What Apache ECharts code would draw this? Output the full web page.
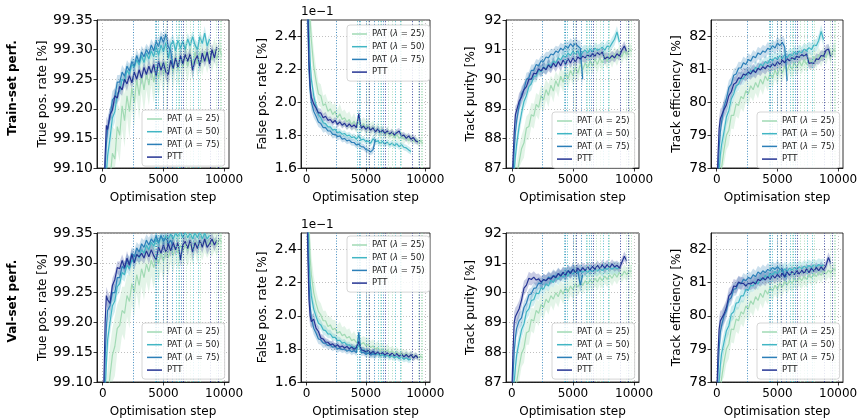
<!DOCTYPE html>
<html><head><meta charset="utf-8">
<script src="https://cdn.jsdelivr.net/npm/echarts@6/dist/echarts.min.js"></script>
<style>html,body{margin:0;padding:0;background:#fff}#c{width:860px;height:418px}</style>
</head><body><div id="c"></div>
<script>
// ---------------- DATA ----------------
const STEPS = [0,100,200,300,400,600,800,1000,1200,1400,1600,1800,2000,2200,2400,2600,2800,3000,3200,3400,
  3600,3800,4000,4200,4400,4600,4800,5000,5200,5400,5600,5800,6000,6200,6400,6600,6800,7000,7200,7400,
  7600,7800,8000,8200,8400,8600,8800,9000,9200,9400,9600,9800];
const SERIES_NAMES = ['PAT (λ = 25)','PAT (λ = 50)','PAT (λ = 75)','PTT'];
const X_TICKS = [0,5000,10000];
const TPR_TICKS = [99.10,99.15,99.20,99.25,99.30,99.35];
const FPR_TICKS = [1.6,1.8,2.0,2.2,2.4];
const PUR_TICKS = [87,88,89,90,91,92];
const EFF_TICKS = [78,79,80,81,82];

// vertical marker steps, one list per run
const VL_PAT25 = [5200,6200,6900,7250,8000,9370,9640,9780];
const VL_PAT50 = [4300,4550,6050,6300,7450,7900];
const VL_PAT75 = [2500,4400,5000,5700,6500];
const VL_PTT = [5300,6650,8880,9500];

// --- Train: true positive rate [%]
const tprTrainPAT25 = [98.85,98.90,98.95,99.00,99.04,99.08,99.125,99.115,99.17,99.155,
 99.205,99.18,99.222,99.195,99.235,99.21,99.25,99.222,99.258,99.232,
 99.262,99.24,99.268,99.245,99.272,99.25,99.278,99.255,99.28,99.258,
 99.284,99.262,99.288,99.266,99.288,99.27,99.292,99.272,99.294,99.275,
 99.296,99.276,99.296,99.278,99.298,99.28,99.298,99.282,99.3,99.284,
 99.302,99.29];
const tprTrainPAT50 = [98.90,98.98,99.04,99.09,99.12,99.15,99.185,99.195,99.225,99.23,
 99.25,99.245,99.265,99.258,99.275,99.27,99.283,99.274,99.29,99.278,
 99.294,99.284,99.298,99.288,99.305,99.29,99.308,99.296,99.312,99.285,
 99.308,99.315,99.298,99.316,99.302,99.314,99.3,99.318,99.306,99.322,
 99.308,99.3,99.322,99.31,99.328,99.306,99.318];
const tprTrainPAT75 = [98.92,99.02,99.10,99.14,99.165,99.185,99.215,99.22,99.245,99.245,
 99.262,99.255,99.272,99.264,99.28,99.272,99.29,99.278,99.296,99.288,
 99.3,99.292,99.308,99.298,99.314,99.305,99.322,99.312,99.326,99.305,
 99.298,99.27];
const tprTrainPTT = [98.95,99.05,99.12,99.172,99.165,99.19,99.198,99.222,99.218,99.238,
 99.232,99.25,99.242,99.256,99.244,99.262,99.25,99.266,99.252,99.27,
 99.258,99.272,99.26,99.275,99.255,99.28,99.265,99.278,99.262,99.258,
 99.282,99.268,99.286,99.27,99.29,99.276,99.292,99.28,99.293,99.265,
 99.282,99.29,99.272,99.294,99.28,99.296,99.276,99.3,99.286,99.304];

// --- Train: false positive rate [x1e-1 %]
const fprTrainPAT25 = [3.5,3.0,2.7,2.5,2.38,2.22,2.13,2.05,2.04,1.98,
 1.99,1.945,1.96,1.925,1.945,1.905,1.93,1.895,1.905,1.88,
 1.895,1.865,1.885,1.855,1.88,1.85,1.87,1.84,1.86,1.83,
 1.85,1.82,1.84,1.81,1.83,1.80,1.82,1.795,1.81,1.785,
 1.805,1.78,1.795,1.775,1.79,1.765,1.785,1.76,1.775,1.755,
 1.765,1.75];
const fprTrainPAT50 = [3.4,2.8,2.45,2.25,2.14,2.04,1.975,1.925,1.905,1.875,
 1.87,1.85,1.85,1.83,1.835,1.815,1.82,1.805,1.81,1.795,
 1.8,1.785,1.79,1.775,1.795,1.77,1.776,1.76,1.765,1.75,
 1.778,1.76,1.765,1.75,1.762,1.745,1.758,1.74,1.752,1.736,
 1.748,1.73,1.742,1.726,1.722,1.71,1.70];
const fprTrainPAT75 = [3.0,2.5,2.2,2.07,2.0,1.945,1.915,1.88,1.87,1.845,
 1.845,1.825,1.825,1.805,1.805,1.79,1.795,1.775,1.78,1.765,
 1.77,1.755,1.755,1.74,1.745,1.73,1.728,1.712,1.708,1.698,
 1.712,1.775];
const fprTrainPTT = [3.2,2.6,2.25,2.1,2.03,1.99,1.965,1.935,1.935,1.905,
 1.915,1.89,1.895,1.875,1.89,1.865,1.88,1.86,1.872,1.852,
 1.868,1.85,1.862,1.845,1.93,1.842,1.855,1.835,1.85,1.83,
 1.845,1.82,1.838,1.815,1.83,1.81,1.826,1.806,1.82,1.8,
 1.815,1.825,1.795,1.8,1.78,1.795,1.775,1.785,1.765,1.758];

// --- Train: track purity [%]
const purTrainPAT25 = [84.5,85.2,85.8,86.3,86.7,87.2,87.65,87.85,88.35,88.4,
 88.8,88.75,89.15,89.05,89.45,89.3,89.65,89.45,89.8,89.6,
 89.95,89.75,90.1,89.9,90.2,90.0,90.3,90.12,90.4,90.2,
 90.5,90.32,90.55,90.38,90.62,90.45,90.68,90.5,90.72,90.55,
 90.78,90.6,90.82,90.65,90.86,90.7,90.92,90.75,90.95,90.82,
 91.0,90.95];
const purTrainPAT50 = [85.5,86.2,86.9,87.4,87.8,88.4,88.85,89.25,89.45,89.75,
 89.85,90.1,90.1,90.3,90.25,90.42,90.35,90.52,90.45,90.62,
 90.55,90.72,90.65,90.8,90.74,90.88,90.8,90.95,90.84,90.96,
 90.75,90.92,90.98,90.88,91.02,90.92,91.05,90.98,91.02,91.08,
 90.98,91.12,91.08,91.22,91.35,91.6,91.25];
const purTrainPAT75 = [85.8,86.8,87.6,88.2,88.6,89.1,89.5,89.65,90.0,90.05,
 90.3,90.3,90.5,90.45,90.62,90.6,90.75,90.72,90.85,90.82,
 90.95,90.9,91.05,90.98,91.12,91.05,91.2,91.1,91.22,91.12,
 91.05,90.0];
const purTrainPTT = [86.0,87.2,88.2,88.8,88.85,89.25,89.4,89.65,89.75,90.0,
 90.0,90.2,90.18,90.35,90.28,90.4,90.32,90.48,90.38,90.55,
 90.42,90.6,90.45,90.65,90.5,90.7,90.55,90.72,90.58,90.75,
 90.68,90.78,90.72,90.82,90.76,90.86,90.78,90.9,90.82,90.92,
 90.68,90.75,90.7,90.8,90.72,90.86,90.78,90.98,91.12,90.92];

// --- Train: track efficiency [%]
const effTrainPAT25 = [75.5,76.3,77.0,77.6,78.0,78.55,79.0,79.15,79.6,79.6,
 79.95,79.9,80.18,80.1,80.35,80.25,80.5,80.38,80.6,80.45,
 80.7,80.55,80.8,80.65,80.88,80.72,80.98,80.8,81.05,80.88,
 81.1,80.95,81.15,81.0,81.2,81.05,81.25,81.1,81.3,81.15,
 81.35,81.2,81.4,81.25,81.45,81.3,81.5,81.35,81.55,81.4,
 81.6,81.55];
const effTrainPAT50 = [76.5,77.3,77.9,78.4,78.7,79.1,79.55,79.75,80.1,80.25,
 80.5,80.55,80.72,80.72,80.86,80.85,80.96,80.92,81.06,81.0,
 81.16,81.1,81.24,81.18,81.32,81.26,81.36,81.3,81.42,81.32,
 81.45,81.35,81.46,81.42,81.52,81.46,81.56,81.5,81.62,81.56,
 81.66,81.6,81.74,81.72,81.88,82.15,81.9];
const effTrainPAT75 = [76.8,77.8,78.6,79.1,79.4,79.85,80.1,80.45,80.55,80.82,
 80.86,81.04,81.04,81.2,81.15,81.3,81.25,81.4,81.35,81.5,
 81.45,81.56,81.52,81.64,81.6,81.72,81.65,81.8,81.72,81.82,
 81.68,80.65];
const effTrainPTT = [77.0,78.3,79.2,79.5,79.55,79.78,79.92,80.2,80.32,80.55,
 80.6,80.74,80.72,80.86,80.82,80.92,80.86,80.98,80.9,81.03,
 80.98,81.08,81.02,81.12,81.06,81.17,81.1,81.23,81.15,81.28,
 81.2,81.32,81.26,81.36,81.3,81.4,81.36,81.45,81.4,81.47,
 81.18,81.2,81.18,81.32,81.3,81.42,81.4,81.58,81.62,81.38];

// --- Val: true positive rate [%]
const tprValPAT25 = [98.85,98.92,98.98,99.03,99.07,99.11,99.145,99.16,99.19,99.195,
 99.22,99.215,99.245,99.235,99.265,99.25,99.28,99.262,99.29,99.275,
 99.298,99.285,99.305,99.292,99.312,99.298,99.318,99.302,99.322,99.308,
 99.326,99.312,99.328,99.316,99.33,99.318,99.332,99.32,99.334,99.322,
 99.336,99.324,99.336,99.326,99.338,99.328,99.338,99.33,99.34,99.33,
 99.34,99.334];
const tprValPAT50 = [98.9,99.0,99.08,99.13,99.17,99.2,99.228,99.236,99.26,99.265,
 99.284,99.28,99.296,99.29,99.305,99.3,99.315,99.308,99.322,99.316,
 99.33,99.322,99.335,99.328,99.34,99.332,99.345,99.336,99.346,99.34,
 99.348,99.34,99.35,99.344,99.354,99.342,99.352,99.342,99.35,99.34,
 99.35,99.342,99.352,99.34,99.35,99.34,99.346];
const tprValPAT75 = [98.92,99.05,99.14,99.19,99.22,99.228,99.25,99.25,99.275,99.275,
 99.294,99.29,99.305,99.298,99.316,99.31,99.325,99.318,99.332,99.326,
 99.338,99.33,99.34,99.334,99.345,99.334,99.346,99.336,99.342,99.332,
 99.338,99.326];
const tprValPTT = [98.95,99.10,99.20,99.245,99.238,99.232,99.262,99.272,99.292,99.29,
 99.304,99.292,99.308,99.296,99.314,99.3,99.314,99.31,99.316,99.308,
 99.32,99.31,99.322,99.312,99.305,99.326,99.316,99.33,99.318,99.332,
 99.32,99.334,99.322,99.334,99.305,99.33,99.336,99.324,99.338,99.318,
 99.334,99.324,99.338,99.326,99.34,99.326,99.332,99.34,99.33,99.338];

// --- Val: false positive rate [x1e-1 %]
const fprValPAT25 = [3.5,2.9,2.55,2.35,2.25,2.14,2.075,2.025,2.005,1.97,
 1.97,1.935,1.945,1.915,1.925,1.895,1.905,1.88,1.888,1.865,
 1.875,1.85,1.858,1.838,1.848,1.828,1.838,1.818,1.828,1.808,
 1.818,1.798,1.808,1.79,1.8,1.784,1.794,1.778,1.788,1.772,
 1.782,1.766,1.776,1.762,1.772,1.756,1.766,1.752,1.76,1.748,
 1.756,1.746];
const fprValPAT50 = [3.3,2.7,2.35,2.2,2.12,2.04,1.995,1.955,1.945,1.915,
 1.91,1.89,1.89,1.87,1.87,1.85,1.852,1.835,1.84,1.822,
 1.825,1.81,1.812,1.798,1.825,1.79,1.795,1.78,1.784,1.772,
 1.776,1.764,1.77,1.758,1.765,1.754,1.762,1.75,1.758,1.746,
 1.754,1.742,1.75,1.738,1.746,1.734,1.738];
const fprValPAT75 = [3.1,2.5,2.2,2.06,1.99,1.925,1.895,1.86,1.855,1.835,
 1.835,1.82,1.825,1.81,1.815,1.8,1.805,1.795,1.8,1.786,
 1.795,1.782,1.79,1.776,1.90,1.775,1.78,1.768,1.775,1.764,
 1.77,1.768];
const fprValPTT = [3.0,2.4,2.1,2.0,1.965,1.98,1.925,1.905,1.865,1.86,
 1.84,1.84,1.825,1.83,1.815,1.825,1.81,1.818,1.805,1.815,
 1.8,1.812,1.798,1.808,1.845,1.795,1.79,1.782,1.79,1.772,
 1.785,1.768,1.782,1.765,1.778,1.762,1.776,1.76,1.774,1.758,
 1.772,1.755,1.77,1.752,1.766,1.75,1.765,1.745,1.76,1.745];

// --- Val: track purity [%]
const purValPAT25 = [84.8,85.5,86.1,86.6,87.0,87.5,87.95,88.15,88.65,88.7,
 89.1,89.05,89.4,89.3,89.6,89.5,89.78,89.66,89.9,89.78,
 90.0,89.86,90.1,89.95,90.16,90.02,90.22,90.1,90.3,90.18,
 90.35,90.24,90.4,90.28,90.44,90.32,90.48,90.36,90.52,90.4,
 90.56,90.44,90.6,90.48,90.64,90.52,90.68,90.56,90.72,90.6,
 90.74,90.7];
const purValPAT50 = [85.5,86.3,87.0,87.5,87.9,88.35,88.75,88.95,89.35,89.45,
 89.74,89.76,89.98,89.96,90.16,90.12,90.3,90.22,90.42,90.34,
 90.52,90.45,90.58,90.52,90.64,90.56,90.7,90.62,90.7,90.66,
 90.72,90.68,90.74,90.68,90.76,90.7,90.78,90.72,90.8,90.74,
 90.82,90.78,90.84,90.78,90.86,90.8,90.84];
const purValPAT75 = [86.0,87.2,88.0,88.5,88.8,89.05,89.15,89.5,89.65,89.92,
 89.96,90.14,90.16,90.32,90.3,90.44,90.4,90.52,90.48,90.58,
 90.54,90.64,90.58,90.68,90.62,90.74,90.68,90.78,90.72,90.74,
 90.25,90.6];
const purValPTT = [86.5,88.0,89.0,89.2,89.25,89.45,89.75,90.15,90.25,90.48,
 90.44,90.52,90.42,90.46,90.35,90.44,90.4,90.48,90.45,90.56,
 90.5,90.64,90.55,90.68,90.58,90.74,90.64,90.78,90.68,90.82,
 90.72,90.84,90.74,90.86,90.76,90.88,90.78,90.92,90.8,90.94,
 90.82,90.94,90.84,90.96,90.86,90.92,90.82,91.02,91.22,91.06];

// --- Val: track efficiency [%]
const effValPAT25 = [75.5,76.4,77.1,77.7,78.1,78.6,79.0,79.15,79.6,79.58,
 79.9,79.85,80.12,80.05,80.3,80.2,80.45,80.34,80.58,80.46,
 80.68,80.55,80.78,80.65,80.86,80.74,80.92,80.8,80.98,80.86,
 81.04,80.92,81.08,80.98,81.12,81.02,81.16,81.06,81.2,81.1,
 81.24,81.14,81.28,81.18,81.32,81.22,81.36,81.26,81.38,81.3,
 81.42,81.38];
const effValPAT50 = [76.5,77.3,78.0,78.5,78.85,79.2,79.55,79.7,80.05,80.12,
 80.38,80.4,80.6,80.6,80.8,80.76,80.92,80.9,81.04,80.96,
 81.14,81.08,81.22,81.14,81.28,81.22,81.34,81.26,81.38,81.32,
 81.42,81.34,81.44,81.38,81.46,81.4,81.48,81.42,81.5,81.44,
 81.52,81.46,81.54,81.48,81.55,81.5,81.54];
const effValPAT75 = [77.0,78.2,79.0,79.5,79.7,80.0,80.15,80.48,80.55,80.8,
 80.82,81.0,80.96,81.1,81.06,81.16,81.12,81.24,81.18,81.32,
 81.26,81.36,81.3,81.4,81.36,81.46,81.4,81.48,81.4,81.42,
 81.15,81.35];
const effValPTT = [77.5,78.8,79.6,79.85,79.88,80.05,80.25,80.6,80.68,80.9,
 80.88,81.02,80.98,80.98,80.9,80.98,80.96,81.02,80.96,81.1,
 81.06,81.15,81.08,81.18,81.1,81.22,81.14,81.25,81.16,81.28,
 81.18,81.32,81.22,81.34,81.24,81.36,81.26,81.38,81.28,81.42,
 81.3,81.44,81.34,81.46,81.36,81.48,81.38,81.52,81.76,81.58];

// --- spread (half-width of shaded band) per metric and run
const sdTPR_PAT25 = [0.05,0.05,0.05,0.05,0.05,0.05,0.045,0.05,0.04,0.045,
 0.04,0.045,0.035,0.045,0.035,0.04,0.03,0.04,0.03,0.038,
 0.03,0.035,0.028,0.035,0.03,0.032,0.028,0.032,0.028,0.03,
 0.025,0.03,0.025,0.028,0.025,0.026,0.024,0.026,0.022,0.025,
 0.02,0.024,0.02,0.022,0.02,0.02,0.022,0.02,0.02,0.018,
 0.018,0.015];
const sdTPR_PAT50 = [0.03,0.03,0.03,0.025,0.025,0.02,0.02,0.018,0.015,0.015,
 0.012,0.012,0.012,0.012,0.01,0.012,0.01,0.012,0.01,0.01,
 0.012,0.01,0.01,0.012,0.01,0.01,0.012,0.01,0.012,0.015,
 0.012,0.01,0.012,0.01,0.01,0.012,0.01,0.01,0.012,0.01,
 0.01,0.012,0.01,0.01,0.012,0.01,0.01];
const sdTPR_PAT75 = [0.03,0.03,0.025,0.02,0.02,0.018,0.015,0.015,0.012,0.012,
 0.012,0.012,0.01,0.012,0.01,0.012,0.01,0.012,0.01,0.012,
 0.01,0.012,0.01,0.012,0.01,0.012,0.01,0.012,0.01,0.015,
 0.015,0.02];
const sdTPR_PTT = [0.03,0.025,0.02,0.015,0.015,0.012,0.012,0.012,0.01,0.012,
 0.01,0.01,0.012,0.01,0.01,0.012,0.01,0.01,0.012,0.01,
 0.01,0.012,0.01,0.012,0.015,0.01,0.012,0.01,0.012,0.015,
 0.01,0.012,0.01,0.01,0.012,0.01,0.01,0.012,0.01,0.015,
 0.012,0.01,0.012,0.01,0.01,0.012,0.01,0.01,0.01,0.008];
const sdFPR_PAT25 = [0.3,0.25,0.2,0.15,0.12,0.1,0.08,0.07,0.07,0.06,
 0.06,0.06,0.05,0.06,0.05,0.05,0.06,0.05,0.05,0.05,
 0.05,0.04,0.05,0.04,0.05,0.04,0.04,0.05,0.04,0.04,
 0.04,0.035,0.04,0.035,0.035,0.03,0.035,0.03,0.03,0.03,
 0.03,0.03,0.025,0.03,0.025,0.025,0.025,0.025,0.02,0.02,
 0.02,0.02];
const sdFPR_PAT50 = [0.2,0.15,0.1,0.08,0.06,0.05,0.04,0.035,0.03,0.03,
 0.03,0.025,0.025,0.025,0.02,0.025,0.02,0.02,0.02,0.02,
 0.02,0.02,0.02,0.02,0.03,0.02,0.02,0.02,0.02,0.02,
 0.025,0.02,0.02,0.02,0.02,0.02,0.02,0.02,0.02,0.02,
 0.02,0.02,0.02,0.02,0.02,0.02,0.02];
const sdFPR_PAT75 = [0.2,0.15,0.1,0.07,0.05,0.04,0.035,0.03,0.03,0.03,
 0.025,0.025,0.025,0.025,0.02,0.025,0.02,0.02,0.02,0.02,
 0.02,0.02,0.02,0.02,0.02,0.02,0.02,0.02,0.02,0.02,
 0.025,0.03];
const sdFPR_PTT = [0.2,0.15,0.1,0.06,0.04,0.035,0.03,0.03,0.025,0.025,
 0.025,0.02,0.02,0.02,0.02,0.02,0.02,0.02,0.02,0.02,
 0.02,0.02,0.02,0.02,0.03,0.02,0.02,0.02,0.02,0.02,
 0.02,0.02,0.02,0.02,0.02,0.02,0.02,0.02,0.02,0.02,
 0.02,0.02,0.02,0.02,0.02,0.02,0.02,0.02,0.02,0.015];
const sdPUR_PAT25 = [0.6,0.6,0.6,0.55,0.5,0.5,0.45,0.5,0.4,0.45,
 0.4,0.42,0.38,0.42,0.36,0.4,0.35,0.4,0.32,0.38,
 0.32,0.36,0.3,0.34,0.3,0.33,0.3,0.32,0.3,0.3,
 0.28,0.3,0.28,0.3,0.26,0.28,0.26,0.28,0.25,0.27,
 0.25,0.26,0.24,0.26,0.24,0.25,0.24,0.24,0.23,0.23,
 0.22,0.2];
const sdPUR_PAT50 = [0.5,0.5,0.45,0.4,0.35,0.3,0.28,0.25,0.25,0.22,
 0.22,0.2,0.2,0.2,0.18,0.2,0.18,0.18,0.2,0.18,
 0.18,0.2,0.18,0.18,0.2,0.18,0.18,0.2,0.18,0.2,
 0.25,0.2,0.18,0.2,0.18,0.18,0.2,0.18,0.18,0.2,
 0.18,0.2,0.18,0.2,0.2,0.2,0.2];
const sdPUR_PAT75 = [0.5,0.45,0.4,0.35,0.3,0.28,0.25,0.22,0.22,0.2,
 0.2,0.2,0.18,0.2,0.18,0.2,0.18,0.2,0.18,0.2,
 0.18,0.2,0.18,0.2,0.18,0.2,0.18,0.2,0.2,0.2,
 0.25,0.3];
const sdPUR_PTT = [0.5,0.4,0.35,0.3,0.3,0.28,0.25,0.25,0.22,0.22,
 0.2,0.2,0.2,0.18,0.2,0.18,0.18,0.2,0.18,0.18,
 0.18,0.18,0.18,0.18,0.2,0.18,0.18,0.18,0.18,0.18,
 0.18,0.18,0.18,0.18,0.18,0.16,0.18,0.16,0.16,0.16,
 0.18,0.16,0.16,0.16,0.16,0.16,0.16,0.16,0.16,0.15];
const sdEFF_PAT25 = [0.6,0.6,0.55,0.5,0.5,0.45,0.45,0.45,0.4,0.42,
 0.38,0.4,0.36,0.4,0.35,0.38,0.33,0.36,0.32,0.34,
 0.3,0.33,0.3,0.32,0.28,0.3,0.28,0.3,0.27,0.28,
 0.26,0.28,0.26,0.27,0.25,0.26,0.24,0.25,0.24,0.25,
 0.23,0.24,0.23,0.24,0.22,0.23,0.22,0.22,0.21,0.21,
 0.2,0.2];
const sdEFF_PAT50 = [0.5,0.45,0.42,0.38,0.33,0.3,0.27,0.25,0.23,0.22,
 0.2,0.2,0.19,0.2,0.18,0.19,0.18,0.18,0.19,0.18,
 0.18,0.19,0.18,0.18,0.19,0.18,0.18,0.19,0.18,0.19,
 0.22,0.19,0.18,0.19,0.18,0.18,0.19,0.18,0.18,0.19,
 0.18,0.19,0.18,0.19,0.19,0.2,0.2];
const sdEFF_PAT75 = [0.5,0.45,0.4,0.35,0.3,0.27,0.24,0.22,0.21,0.2,
 0.2,0.19,0.18,0.19,0.18,0.19,0.18,0.19,0.18,0.19,
 0.18,0.19,0.18,0.19,0.18,0.19,0.18,0.19,0.19,0.2,
 0.24,0.3];
const sdEFF_PTT = [0.5,0.4,0.35,0.3,0.28,0.26,0.24,0.23,0.22,0.21,
 0.2,0.19,0.19,0.18,0.19,0.18,0.18,0.19,0.18,0.18,
 0.18,0.18,0.18,0.17,0.19,0.18,0.17,0.18,0.17,0.18,
 0.17,0.17,0.17,0.17,0.17,0.16,0.17,0.16,0.16,0.16,
 0.17,0.16,0.16,0.16,0.16,0.16,0.16,0.16,0.16,0.15];

// ---------------- LAYOUT & STYLE ----------------
const COLORS = ['#a1dab4','#41b6c4','#2c7fb8','#253494'];
const BAND_ALPHA = [0.3,0.25,0.25,0.25];
const FONT = 'DejaVu Sans';
const GRID_BOXES = [[97,20,132,148],[301,20,129,148],[506,20,133,148],[711,20,132,148],
                    [97,233,132,149],[301,233,129,149],[506,233,133,149],[711,233,132,149]];
const Y_NAME_GAPS = [48,32,29,28,48,32,29,28];
const LEGEND_POS = [[142,110],[347,25],[552,112],[757,112],[142,323],[347,236],[552,323],[757,323]];
const X_MIN = -470, X_MAX = 10400;

const PANELS = [
  {vals:[tprTrainPAT25,tprTrainPAT50,tprTrainPAT75,tprTrainPTT], sds:[sdTPR_PAT25,sdTPR_PAT50,sdTPR_PAT75,sdTPR_PTT], ticks:TPR_TICKS, min:99.10, max:99.35, dec:2, name:'True pos. rate [%]'},
  {vals:[fprTrainPAT25,fprTrainPAT50,fprTrainPAT75,fprTrainPTT], sds:[sdFPR_PAT25,sdFPR_PAT50,sdFPR_PAT75,sdFPR_PTT], ticks:FPR_TICKS, min:1.6, max:2.5, dec:1, name:'False pos. rate [%]'},
  {vals:[purTrainPAT25,purTrainPAT50,purTrainPAT75,purTrainPTT], sds:[sdPUR_PAT25,sdPUR_PAT50,sdPUR_PAT75,sdPUR_PTT], ticks:PUR_TICKS, min:87, max:92, dec:0, name:'Track purity [%]'},
  {vals:[effTrainPAT25,effTrainPAT50,effTrainPAT75,effTrainPTT], sds:[sdEFF_PAT25,sdEFF_PAT50,sdEFF_PAT75,sdEFF_PTT], ticks:EFF_TICKS, min:78, max:82.5, dec:0, name:'Track efficiency [%]'},
  {vals:[tprValPAT25,tprValPAT50,tprValPAT75,tprValPTT], sds:[sdTPR_PAT25,sdTPR_PAT50,sdTPR_PAT75,sdTPR_PTT], ticks:TPR_TICKS, min:99.10, max:99.35, dec:2, name:'True pos. rate [%]'},
  {vals:[fprValPAT25,fprValPAT50,fprValPAT75,fprValPTT], sds:[sdFPR_PAT25,sdFPR_PAT50,sdFPR_PAT75,sdFPR_PTT], ticks:FPR_TICKS, min:1.6, max:2.5, dec:1, name:'False pos. rate [%]'},
  {vals:[purValPAT25,purValPAT50,purValPAT75,purValPTT], sds:[sdPUR_PAT25,sdPUR_PAT50,sdPUR_PAT75,sdPUR_PTT], ticks:PUR_TICKS, min:87, max:92, dec:0, name:'Track purity [%]'},
  {vals:[effValPAT25,effValPAT50,effValPAT75,effValPTT], sds:[sdEFF_PAT25,sdEFF_PAT50,sdEFF_PAT75,sdEFF_PTT], ticks:EFF_TICKS, min:78, max:82.5, dec:0, name:'Track efficiency [%]'}
];
const VLINES = [VL_PAT25, VL_PAT50, VL_PAT75, VL_PTT];

function rgba(hex, a){
  const n = parseInt(hex.slice(1),16);
  return 'rgba(' + ((n>>16)&255) + ',' + ((n>>8)&255) + ',' + (n&255) + ',' + a + ')';
}

const option = {
  animation:false, backgroundColor:'#fff',
  textStyle:{fontFamily:FONT},
  grid:[], xAxis:[], yAxis:[], legend:[], series:[],
  graphic:[
    {type:'text', x:13, y:88, rotation:Math.PI/2,
     style:{text:'Train-set perf.', font:'bold 12px "DejaVu Sans"', fill:'#000', align:'center', verticalAlign:'middle', textAlign:'center', textVerticalAlign:'middle'}},
    {type:'text', x:13, y:301, rotation:Math.PI/2,
     style:{text:'Val-set perf.', font:'bold 12px "DejaVu Sans"', fill:'#000', align:'center', verticalAlign:'middle', textAlign:'center', textVerticalAlign:'middle'}},
    {type:'text', left:301, top:6, style:{text:'1e\u22121', font:'12px "DejaVu Sans"', fill:'#000'}},
    {type:'text', left:301, top:219, style:{text:'1e\u22121', font:'12px "DejaVu Sans"', fill:'#000'}}
  ]
};

PANELS.forEach((p, k) => {
  const b = GRID_BOXES[k];
  option.grid.push({left:b[0], top:b[1], width:b[2], height:b[3], show:true, borderColor:'#000', borderWidth:0.8,
    backgroundColor:'transparent', containLabel:false, outerBoundsMode:'none', z:0});
  option.xAxis.push({
    gridIndex:k, type:'value', min:X_MIN, max:X_MAX,
    name:'Optimisation step', nameLocation:'middle', nameGap:24,
    nameTextStyle:{fontSize:12, color:'#000', fontFamily:FONT},
    axisLine:{show:true, onZero:false, lineStyle:{color:'#000', width:0.8}},
    axisTick:{show:true, length:3.5, customValues:X_TICKS, lineStyle:{color:'#000', width:0.8}},
    axisLabel:{customValues:X_TICKS, margin:6, fontSize:12, color:'#000', fontFamily:FONT, formatter:v=>String(v)},
    splitLine:{show:true, lineStyle:{type:[1,2], color:'#b0b0b0', width:0.8}}
  });
  option.yAxis.push({
    gridIndex:k, type:'value', min:p.min, max:p.max,
    name:p.name, nameLocation:'middle', nameGap:Y_NAME_GAPS[k],
    nameTextStyle:{fontSize:12, color:'#000', fontFamily:FONT},
    axisLine:{show:true, onZero:false, lineStyle:{color:'#000', width:0.8}},
    axisTick:{show:true, length:3.5, customValues:p.ticks, lineStyle:{color:'#000', width:0.8}},
    axisLabel:{customValues:p.ticks, margin:4, fontSize:14, color:'#000', fontFamily:FONT, formatter:v=>Number(v).toFixed(p.dec)},
    splitLine:{show:true, lineStyle:{type:[1,2], color:'#b0b0b0', width:0.8}}
  });
  const lp = LEGEND_POS[k];
  option.legend.push({
    left:lp[0], top:lp[1], orient:'vertical', selectedMode:false, z:20, zlevel:0,
    data:SERIES_NAMES, icon:'rect', itemWidth:15, itemHeight:1.5, itemGap:2.7,
    padding:[4,5,4,5], backgroundColor:'rgba(255,255,255,0.85)', borderColor:'#cccccc', borderWidth:0.8, borderRadius:3,
    textStyle:{fontSize:8.5, lineHeight:10, color:'#222', fontFamily:FONT,
      rich:{i:{fontStyle:'italic', fontSize:8.5, lineHeight:10, fontFamily:FONT, color:'#222'}}},
    formatter:name=>name.replace('λ','{i|λ}'),
    itemStyle:{borderWidth:0}
  });
  // shaded bands
  p.vals.forEach((vals, s) => {
    const sd = p.sds[s];
    option.series.push({
      type:'custom', xAxisIndex:k, yAxisIndex:k, silent:true, z:1,
      data:[[STEPS[0], p.min]],
      renderItem:(params, api) => {
        const n = Math.min(vals.length, sd.length);
        const clamp = v => Math.max(p.min, Math.min(p.max, v));
        const pts = [];
        for (let i=0;i<n;i++) pts.push(api.coord([STEPS[i], clamp(vals[i]+sd[i])]));
        for (let i=n-1;i>=0;i--) pts.push(api.coord([STEPS[i], clamp(vals[i]-sd[i])]));
        return {type:'polygon', shape:{points:pts}, style:{fill:rgba(COLORS[s], BAND_ALPHA[s])}};
      }
    });
  });
  // lines with vertical dotted markers
  p.vals.forEach((vals, s) => {
    option.series.push({
      name:SERIES_NAMES[s], type:'line', xAxisIndex:k, yAxisIndex:k, z:2,
      data:vals.map((v,i)=>[STEPS[i], v]),
      showSymbol:false, symbol:'none', clip:true,
      lineStyle:{color:COLORS[s], width:1.2}, itemStyle:{color:COLORS[s]},
      markLine:{silent:true, symbol:'none', label:{show:false}, animation:false,
        lineStyle:{color:COLORS[s], type:[1,1.7], width:0.9},
        emphasis:{disabled:true},
        data:VLINES[s].map(x=>({xAxis:x}))}
    });
  });
});

const chart = echarts.init(document.getElementById('c'), null, {renderer:'canvas'});
chart.setOption(option);
</script></body></html>
